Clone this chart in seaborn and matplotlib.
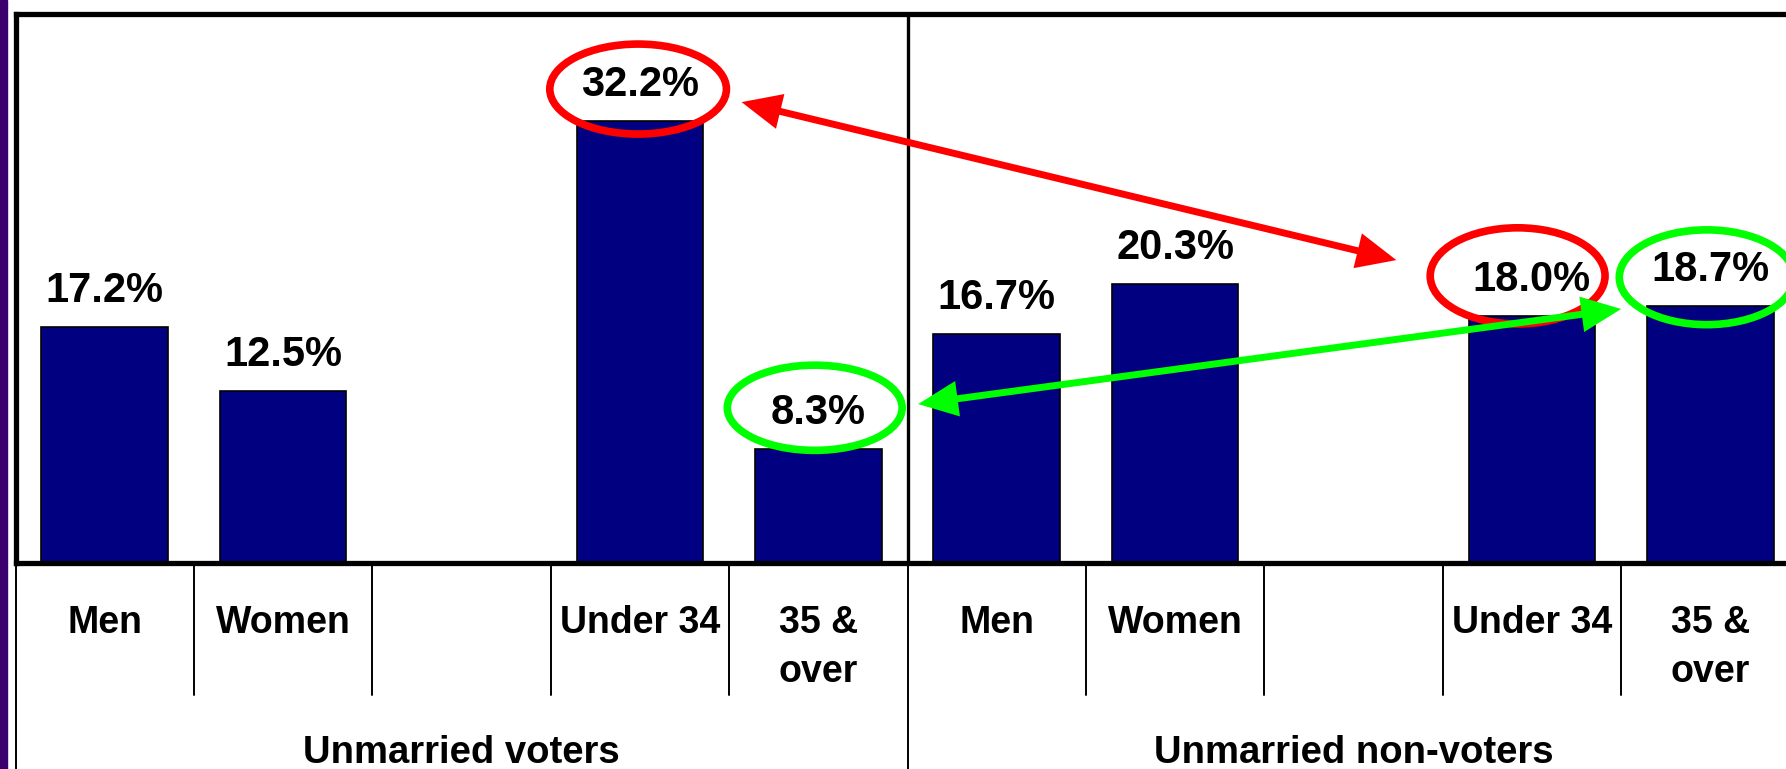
import pandas as pd
import seaborn as sns
import matplotlib.pyplot as plt
from matplotlib.patches import Ellipse, FancyArrowPatch, Rectangle
import matplotlib.transforms as mtransforms

# Data
groups = ["Unmarried voters", "Unmarried non-voters"]
categories = ["Men", "Women", "", "Under 34", "35 &\nover"]
voters = [17.2, 12.5, None, 32.2, 8.3]
non_voters = [16.7, 20.3, None, 18.0, 18.7]

# build slot keys (group + category) so the empty slot keeps its space
rows = []
order = []
for g, vals in zip(groups, [voters, non_voters]):
    for c, v in zip(categories, vals):
        key = g + "|" + c
        order.append(key)
        if v is not None:
            rows.append({"slot": key, "pct": v})
df = pd.DataFrame(rows)

sns.set_style("white")
plt.rcParams['font.family'] = ['Liberation Sans', 'DejaVu Sans']
plt.rcParams['font.weight'] = 'bold'
plt.rcParams['text.color'] = 'black'

fig = plt.figure(figsize=(17.86, 7.69), dpi=100)
# purple strip on the far left
fig.patches.append(Rectangle((0, 0), 7 / 1786, 1, transform=fig.transFigure,
                             color='#3b006e', zorder=0))
ax = fig.add_axes([15.5 / 1786, 206 / 769, 1784 / 1786, 549.5 / 769])

sns.barplot(data=df, x="slot", y="pct", order=order, color="#000080",
            width=0.71, edgecolor="black", linewidth=1.2, saturation=1,
            errorbar=None, ax=ax)
ax.set_xlim(-0.5, 9.5)
ax.set_ylim(0, 40)
ax.set_xticks([])
ax.set_yticks([])
ax.set_xlabel("")
ax.set_ylabel("")
for s in ["left", "top", "bottom"]:
    ax.spines[s].set_linewidth(3.8)
    ax.spines[s].set_color("black")
ax.spines["right"].set_visible(False)
ax.axvline(4.5, color="black", lw=2.4, zorder=1)

# value labels
pos = 0
for vals in [voters, non_voters]:
    for v in vals:
        if v is not None:
            ax.annotate(f"{v:.1f}%", xy=(pos, v), xytext=(0, 25),
                        textcoords="offset pixels", ha="center", va="baseline",
                        fontsize=30, fontweight="bold", color="black", zorder=6)
        pos += 1

# category separators and labels below the axis
trans = mtransforms.blended_transform_factory(ax.transData, ax.transAxes)
for b in range(11):
    x = b - 0.5
    end = -0.4 if b in (0, 5, 10) else -0.240
    ax.plot([x, x], [0, end], color="black", lw=1.4, transform=trans,
            clip_on=False)
for i, key in enumerate(order):
    lines = key.split("|")[1].split("\n")
    for k, line in enumerate(lines):
        ax.annotate(line, xy=(i, 0), xycoords=trans, xytext=(0, -70 - 49 * k),
                    textcoords="offset pixels", ha="center", va="baseline",
                    fontsize=27, fontweight="bold", color="black",
                    annotation_clip=False)
for j, g in enumerate(groups):
    ax.annotate(g, xy=(j * 5 + 2, 0), xycoords=trans, xytext=(0, -200),
                textcoords="offset pixels", ha="center", va="baseline",
                fontsize=27.5, fontweight="bold", color="black",
                annotation_clip=False)

# highlight ellipses
ellipses = [((2.99, 34.5), 0.99, 6.55, "#ff0000"),
            ((7.92, 20.9), 0.98, 7.0, "#ff0000"),
            ((3.98, 11.3), 0.98, 6.2, "#00ff00"),
            ((8.98, 20.8), 0.98, 6.9, "#00ff00")]
for c, w, h, col in ellipses:
    ax.add_patch(Ellipse(c, w, h, fill=False, edgecolor=col, lw=5.5,
                         zorder=4, clip_on=False))

# comparison arrows
arrows = [((3.57, 33.55), (7.24, 22.05), "#ff0000"),
          ((4.56, 11.57), (8.50, 18.49), "#00ff00")]
for a, b, col in arrows:
    ax.add_patch(FancyArrowPatch(a, b, arrowstyle="<|-|>,head_length=20,head_width=9",
                                 mutation_scale=1, color=col, lw=5,
                                 joinstyle="miter", capstyle="butt",
                                 shrinkA=0, shrinkB=0, zorder=5, clip_on=False))

fig.savefig("out.png", dpi=100)
